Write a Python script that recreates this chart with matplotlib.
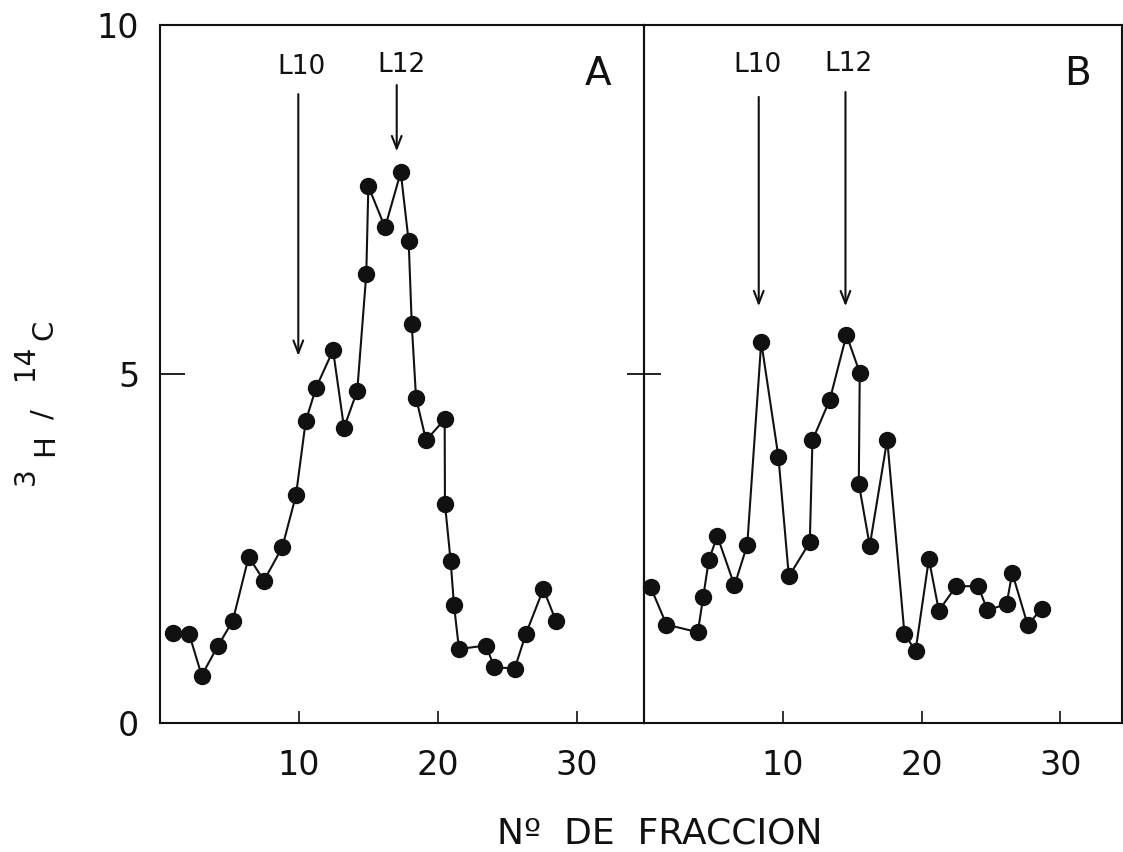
import matplotlib
matplotlib.use("Agg")
import matplotlib.pyplot as plt

# Fraction number and 3H/14C ratio, panel A
frac_a = [0.96, 2.09, 3.0, 4.15, 5.23, 6.38, 7.48, 8.80, 9.78, 10.48, 11.22,
          12.45, 13.24, 14.19, 14.84, 14.99, 16.19, 17.32, 17.89, 18.11, 18.42,
          19.14, 20.48, 20.50, 20.91, 21.15, 21.51, 23.45, 24.05, 25.52, 26.31,
          27.58, 28.49]
ratio_a = [1.29, 1.28, 0.68, 1.10, 1.46, 2.38, 2.04, 2.52, 3.26, 4.32, 4.80,
           5.34, 4.23, 4.76, 6.43, 7.69, 7.10, 7.89, 6.90, 5.72, 4.66,
           4.05, 4.35, 3.14, 2.32, 1.69, 1.06, 1.11, 0.80, 0.78, 1.27,
           1.92, 1.46]

# Fraction number and 3H/14C ratio, panel B
frac_b = [0.47, 1.62, 3.88, 4.27, 4.67, 5.28, 6.52, 7.44, 8.45, 9.69, 10.44,
          11.95, 12.14, 13.39, 14.59, 15.55, 15.48, 16.27, 17.53, 18.77, 19.57,
          20.53, 21.25, 22.50, 24.09, 24.74, 26.13, 26.54, 27.66, 28.65]
ratio_b = [1.95, 1.41, 1.30, 1.81, 2.33, 2.68, 1.97, 2.55, 5.46, 3.81, 2.10,
           2.59, 4.05, 4.63, 5.56, 5.02, 3.43, 2.54, 4.06, 1.28, 1.03,
           2.35, 1.61, 1.96, 1.96, 1.62, 1.70, 2.15, 1.40, 1.64]

# Marker positions: (label, x, arrow start y, arrow tip y, label x, label y)
markers_a = [("L10", 9.95, 9.01, 5.26, 10.19, 9.40),
             ("L12", 17.03, 9.14, 8.19, 17.39, 9.43)]
markers_b = [("L10", 8.27, 8.97, 5.97, 8.16, 9.43),
             ("L12", 14.52, 9.04, 5.97, 14.74, 9.44)]

x_ticks = [10, 20, 30]
y_ticks = [0, 5, 10]

W, H = 1123, 852
fig = plt.figure(figsize=(W / 100, H / 100), dpi=100)
fig.patch.set_facecolor("white")

ink = "#111111"
font = "DejaVu Sans"

ax_a = fig.add_axes([160 / W, 1 - 723 / H, 484 / W, 698 / H])
ax_b = fig.add_axes([644 / W, 1 - 723 / H, 478 / W, 698 / H])

for ax, xr in ((ax_a, 484 / 13.9), (ax_b, 478 / 13.875)):
    ax.set_xlim(0, xr)
    ax.set_ylim(0, 10)
    ax.set_facecolor("none")
    for s in ax.spines.values():
        s.set_linewidth(1.5)
        s.set_color(ink)
    ax.set_xticks(x_ticks)
    ax.set_xticklabels([str(t) for t in x_ticks], fontsize=24, family=font,
                       color=ink)
    ax.tick_params(axis="x", direction="in", length=9, width=1.2,
                   colors=ink, pad=19)

ax_a.set_yticks(y_ticks)
ax_a.set_yticklabels([str(t) for t in y_ticks], fontsize=24, family=font,
                     color=ink)
ax_a.tick_params(axis="y", direction="in", length=18, width=1.3,
                 colors=ink, pad=15)

ax_b.set_yticks([5])
ax_b.set_yticklabels([])
ax_b.tick_params(axis="y", direction="inout", length=24, width=1.3,
                 colors=ink)

ax_a.plot(frac_a, ratio_a, color=ink, lw=1.5, marker="o", ms=11.5,
          mfc=ink, mec=ink, clip_on=False, zorder=3)
ax_b.plot(frac_b, ratio_b, color=ink, lw=1.5, marker="o", ms=11.5,
          mfc=ink, mec=ink, clip_on=False, zorder=3)

for ax, marks in ((ax_a, markers_a), (ax_b, markers_b)):
    for name, x, y0, y1, lx, ly in marks:
        ax.annotate("", xy=(x, y1), xytext=(x, y0),
                    arrowprops=dict(arrowstyle="->,head_length=0.9,head_width=0.35",
                                    lw=1.5, color=ink, shrinkA=0, shrinkB=0))
        ax.text(lx, ly, name, ha="center", va="center", fontsize=19,
                family=font, color=ink)

ax_a.text(31.5, 9.3, "A", ha="center", va="center", fontsize=28,
          family=font, color=ink)
ax_b.text(31.24, 9.3, "B", ha="center", va="center", fontsize=28,
          family=font, color=ink)

# Rotated y-axis label 3H / 14C, built from pieces so the isotope numbers
# sit raised beside the element letters
ylabel_parts = [("3", 26, 476, 20), ("H", 45, 445, 21),
                ("/", 44, 414, 21), ("14", 25, 362, 20),
                ("C", 44, 330, 21)]
for s, px, py, fs in ylabel_parts:
    fig.text(px / W, 1 - py / H, s, rotation=90, ha="center", va="center",
             fontsize=fs, family=font, color=ink)

fig.text(660 / W, 1 - 833 / H, "Nº  DE  FRACCION", ha="center", va="center",
         fontsize=26, family=font, color=ink)

fig.savefig("out.png", dpi=100, facecolor="white")
